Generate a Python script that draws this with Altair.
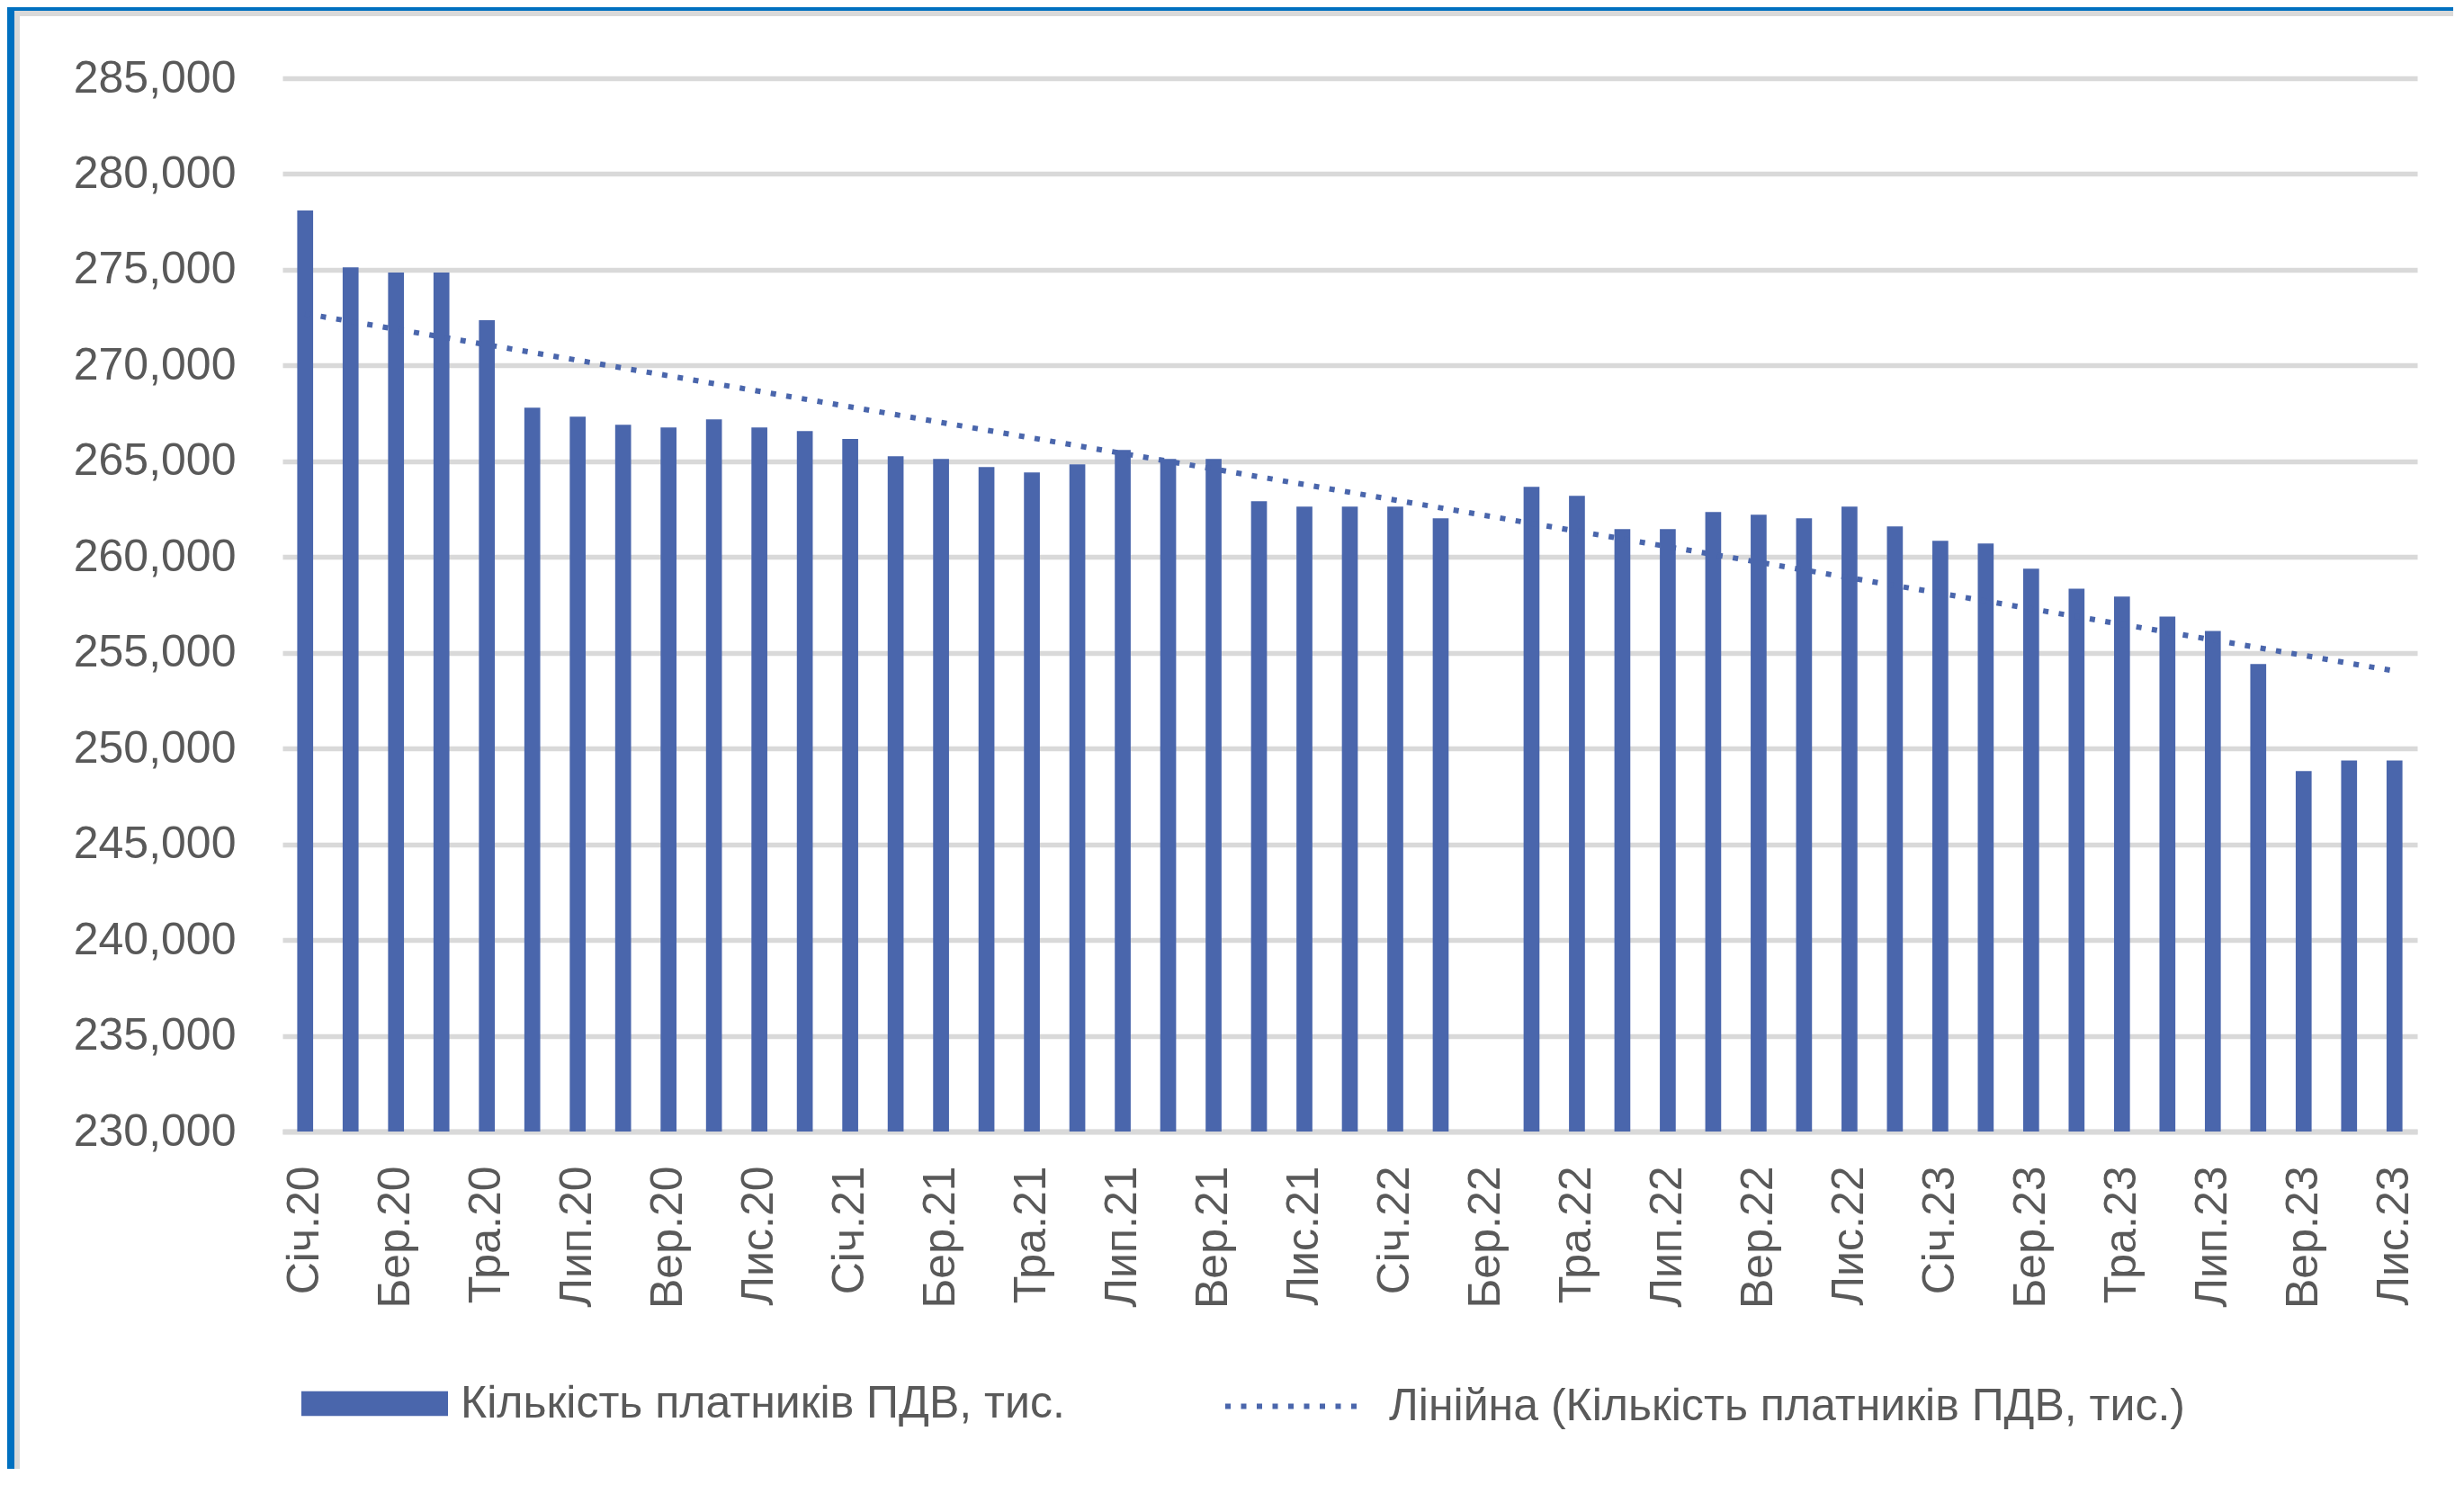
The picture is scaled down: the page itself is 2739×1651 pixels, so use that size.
import altair as alt
import pandas as pd

FONT = "Liberation Sans"
BAR_COLOR = "#4A66AC"
GRID = "#D9D9D9"
TEXT = "#595959"

month_names = ["Січ", "Лют", "Бер", "Кві", "Тра", "Чер", "Лип", "Сер", "Вер", "Жов", "Лис", "Гру"]
years = ["20", "21", "22", "23"]
labels = [f"{m}.{y}" for y in years for m in month_names][:47]

values = [
    278100, 275130, 274850, 274850, 272360, 267800, 267330, 266910, 266770, 267190, 266770, 266580,
    266160, 265260, 265120, 264700, 264420, 264840, 265590, 265120, 265120, 262910, 262630, 262630,
    262630, 262020, None, 263670, 263200, 261460, 261460, 262350, 262210, 262020, 262630, 261600,
    260850, 260700, 259390, 258350, 257930, 256890, 256140, 254410, 248820, 249380, 249380,
]
y_ticks = [230000, 235000, 240000, 245000, 250000, 255000, 260000, 265000, 270000, 275000, 280000, 285000]

series_name = "Кількість платників ПДВ, тис."
trend_name = "Лінійна (Кількість платників ПДВ, тис.)"

df = pd.DataFrame({"label": labels, "idx": list(range(len(labels))), "value": values})

W, H = 2373, 1171
PAD = {"left": 306, "top": 79, "right": 40, "bottom": 375}

x_scale = alt.Scale(domain=labels, paddingInner=0.65, paddingOuter=0.325)
y_scale = alt.Scale(domain=[230000, 285000], zero=False, nice=False)

x_axis = alt.Axis(values=labels[::2], labelAngle=-90, labelPadding=38, ticks=False,
                  domainColor=GRID, domainWidth=6, labelFontSize=50, labelColor=TEXT,
                  labelFont=FONT, title=None, grid=False, labelLimit=1000)
y_axis = alt.Axis(values=y_ticks, format=",d", labelPadding=52, ticks=False, domain=False,
                  gridColor=GRID, gridWidth=5.5, labelFontSize=50, labelColor=TEXT,
                  labelFont=FONT, title=None, labelLimit=1000)

bars = (
    alt.Chart(df)
    .transform_filter("isValid(datum.value)")
    .transform_calculate(s1=f"'{series_name}'")
    .mark_bar()
    .encode(
        x=alt.X("label:N", scale=x_scale, axis=x_axis),
        y=alt.Y("value:Q", scale=y_scale, axis=y_axis),
        y2=alt.datum(230000),
        color=alt.Color(
            "s1:N",
            scale=alt.Scale(domain=[series_name], range=[BAR_COLOR]),
            legend=alt.Legend(title=None, orient="none", legendX=21, legendY=1392,
                              symbolType="M-1,-0.17H1V0.17H-1Z", symbolSize=26569,
                              symbolStrokeWidth=0, symbolOpacity=1, labelFontSize=50, labelColor=TEXT,
                              labelFont=FONT, labelOffset=14, padding=0, labelLimit=3000),
        ),
    )
)

label_expr = "[" + ",".join(f"'{l}'" for l in labels) + "][round(datum.idx)]"

trend = (
    alt.Chart(df)
    .transform_filter("isValid(datum.value)")
    .transform_regression("idx", "value", method="linear", extent=[0, len(labels) - 1])
    .transform_calculate(label=label_expr, s2=f"'{trend_name}'")
    .mark_line(strokeWidth=6, strokeDash=[6, 11.5], strokeCap="butt")
    .encode(
        x=alt.X("label:N", scale=x_scale, axis=x_axis),
        y=alt.Y("value:Q", scale=y_scale, axis=y_axis),
        color=alt.Color(
            "s2:N",
            scale=alt.Scale(domain=[trend_name], range=[BAR_COLOR]),
            legend=alt.Legend(title=None, orient="none", legendX=1045, legendY=1395,
                              symbolType="stroke", symbolSize=24649, symbolStrokeWidth=6,
                              symbolDash=[6, 11.5], labelFontSize=50, labelColor=TEXT,
                              labelFont=FONT, labelOffset=22, padding=0, labelLimit=3000),
        ),
    )
)

frame_df = pd.DataFrame({"k": [0]})
bottom = H + PAD["bottom"]
right = W + PAD["right"]
frame_left_blue = alt.Chart(frame_df).mark_rule(color="#0070C0", strokeWidth=8).encode(
    x=alt.value(-302), y=alt.value(-79), y2=alt.value(bottom))
frame_top_blue = alt.Chart(frame_df).mark_rule(color="#0070C0", strokeWidth=4).encode(
    x=alt.value(-306), x2=alt.value(right), y=alt.value(-77))
frame_left_gray = alt.Chart(frame_df).mark_rule(color=GRID, strokeWidth=6).encode(
    x=alt.value(-295), y=alt.value(-75), y2=alt.value(bottom))
frame_top_gray = alt.Chart(frame_df).mark_rule(color=GRID, strokeWidth=6).encode(
    x=alt.value(-298), x2=alt.value(right), y=alt.value(-72))

chart = (
    alt.layer(bars, trend, frame_left_blue, frame_top_blue, frame_left_gray, frame_top_gray)
    .resolve_scale(color="independent")
    .resolve_legend(color="independent")
    .properties(width=W, height=H, padding=PAD, autosize=alt.AutoSizeParams(type="none"),
                background="white")
    .configure_view(stroke=None)
)

chart.save("out.html", embed_options={"renderer": "svg", "actions": False})
